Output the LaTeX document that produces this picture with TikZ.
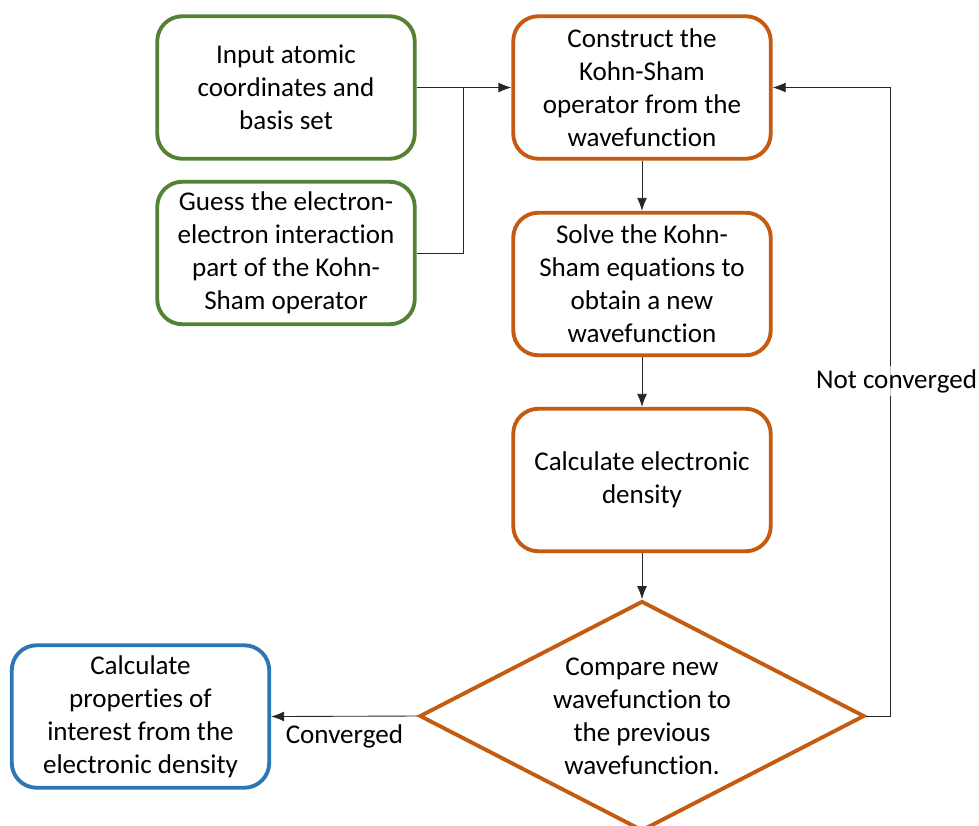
\documentclass[tikz,border=0pt]{standalone}
\usepackage{fontspec}
\setmainfont{Carlito}[Ligatures=NoCommon]
\usetikzlibrary{arrows.meta,positioning,shapes.geometric}

\definecolor{stepgreen}{RGB}{84,130,53}
\definecolor{steporange}{RGB}{197,90,17}
\definecolor{stepblue}{RGB}{46,117,182}

\tikzset{
    box/.style={draw, line width=2.2pt, rounded corners=0.5cm, align=center,
        minimum width=5.15cm, minimum height=2.85cm, inner sep=0pt,
        font=\fontsize{15.4}{18.8}\selectfont},
    inbox/.style={box, stepgreen},
    scfbox/.style={box, steporange},
    outbox/.style={box, stepblue},
    decide/.style={draw=steporange, line width=2.2pt, diamond, aspect=1.94,
        minimum width=8.9cm, minimum height=4.6cm, inner sep=0pt, align=center,
        font=\fontsize{15.4}{18.8}\selectfont},
    link/.style={draw=black!85, line width=0.5pt},
    arrow/.style={link, -{Latex[length=2.6mm,width=2mm]}},
    lbl/.style={font=\fontsize{15.4}{18.8}\selectfont}
}

\begin{document}
\begin{tikzpicture}
    \useasboundingbox (0,0) rectangle (19.58,-16.5);

    % input steps
    \node[inbox, text=black] (atoms) at (5.72,-1.75) {Input atomic\\coordinates and\\basis set};
    \node[inbox, text=black] (guess) at (5.72,-5.06) {Guess the electron-\\electron interaction\\part of the Kohn-\\Sham operator};

    % self-consistent loop
    \node[scfbox, text=black] (ksop) at (12.84,-1.75) {Construct the\\Kohn-Sham\\operator from the\\wavefunction};
    \node[scfbox, text=black] (solve) at (12.84,-5.68) {Solve the Kohn-\\Sham equations to\\obtain a new\\wavefunction};
    \node[scfbox, text=black] (dens) at (12.84,-9.60) {Calculate electronic\\density};
    \node[decide] (cmp) at (12.84,-14.32) {Compare new\\wavefunction to\\the previous\\wavefunction.};

    % result
    \node[outbox, text=black] (props) at (2.81,-14.33) {Calculate\\properties of\\interest from the\\electronic density};

    \coordinate (join) at (9.26,-1.75);
    \coordinate (back) at (17.80,-14.32);

    \draw[arrow] (atoms) -- (ksop);
    \draw[link] (guess.east) -| (join);
    \draw[arrow] (ksop) -- (solve);
    \draw[arrow] (solve) -- (dens);
    \draw[arrow] (dens) -- (cmp);
    \draw[arrow] (cmp.west) -- node[lbl, below=1.5pt] {Converged} (props.east);
    \draw[arrow] (cmp.east) -- (back) |- (ksop.east);
    \node[lbl, fill=white, fill opacity=0.75, text opacity=1, inner sep=2pt] (notconv) at (17.93,-7.62) {Not converged};
\end{tikzpicture}
\end{document}
